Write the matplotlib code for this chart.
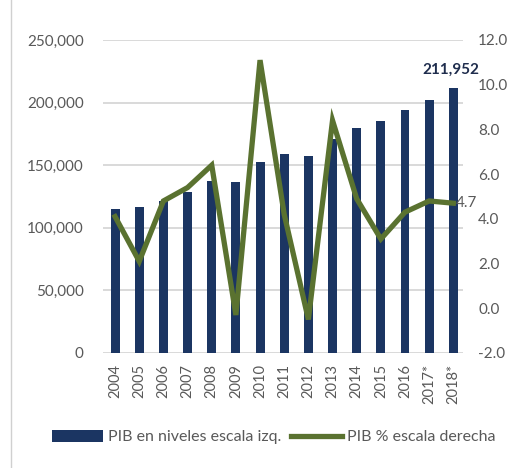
import matplotlib
matplotlib.use("Agg")
import matplotlib.pyplot as plt
from matplotlib.lines import Line2D
from matplotlib.patches import Patch
import numpy as np

years = ["2004", "2005", "2006", "2007", "2008", "2009", "2010", "2011",
         "2012", "2013", "2014", "2015", "2016", "2017*", "2018*"]
pib_niveles = [115000, 116500, 121300, 128500, 137200, 136400, 152300, 158700,
               157300, 170700, 179700, 185300, 194000, 202000, 211952]
pib_pct = [4.1, 2.1, 4.8, 5.4, 6.4, -0.3, 11.1, 4.2, -0.5, 8.4, 4.9, 3.1, 4.3, 4.8, 4.7]
left_ticks = [0, 50000, 100000, 150000, 200000, 250000]
right_ticks = [-2.0, 0.0, 2.0, 4.0, 6.0, 8.0, 10.0, 12.0]

navy = "#1b3562"
green = "#5a7230"
grid_c = "#d9d9d9"
txt_c = "#595959"

plt.rcParams['font.family'] = ['Lato', 'DejaVu Sans']

W, H = 516, 468
fig = plt.figure(figsize=(W / 100, H / 100), dpi=100)
x0, x1, y0, y1 = 103, 463, 40, 353
ax = fig.add_axes([x0 / W, 1 - y1 / H, (x1 - x0) / W, (y1 - y0) / H])

x = np.arange(len(years))
ax.bar(x, pib_niveles, width=0.37, color=navy, zorder=2)
ax.set_ylim(0, 250000)
ax.set_xlim(-0.5, len(years) - 0.6)
ax.set_yticks(left_ticks)
ax.set_yticklabels([f"{v:,}" for v in left_ticks])
ax.yaxis.grid(True, color=grid_c, linewidth=1.4, zorder=0)
ax.set_axisbelow(True)
for s in ax.spines.values():
    s.set_visible(False)
ax.tick_params(axis='y', length=0, pad=14, labelsize=11, labelcolor=txt_c)
ax.set_xticks(x)
ax.set_xticklabels(years, rotation=90)
ax.tick_params(axis='x', length=0, pad=8, labelsize=10.5, labelcolor=txt_c)

ax2 = ax.twinx()
ax2.plot(x, pib_pct, color=green, linewidth=3.8, zorder=3, solid_joinstyle='miter')
ax2.set_ylim(-2, 12)
ax2.set_yticks(right_ticks)
ax2.set_yticklabels([f"{v:.1f}" for v in right_ticks])
for s in ax2.spines.values():
    s.set_visible(False)
ax2.tick_params(axis='y', length=0, pad=11, labelsize=11, labelcolor=txt_c)

ax.annotate(f"{pib_niveles[-1]:,}", (x[-1], pib_niveles[-1]), xytext=(-2, 8),
            textcoords='offset points', ha='center', va='bottom',
            fontsize=11, fontweight='bold', color="#1f2d4d")
ax2.annotate(f"{pib_pct[-1]}", (x[-1], pib_pct[-1]), xytext=(2, 0),
             textcoords='offset points', ha='left', va='center',
             fontsize=11, color=txt_c)

handles = [Patch(facecolor=navy, edgecolor='none'),
           Line2D([0], [0], color=green, linewidth=3.8)]
fig.legend(handles, ["PIB en niveles escala izq.", "PIB % escala derecha"],
           loc='center', bbox_to_anchor=(0.53, 1 - 437 / H), ncol=2, frameon=False,
           fontsize=11.5, handlelength=3.2, handleheight=0.8, handletextpad=0.3,
           columnspacing=0.6, labelcolor=txt_c)

fig.add_artist(Line2D([11 / W, 11 / W], [0, 1], color="#d0d0d0", linewidth=1.0))

fig.savefig("out.png", dpi=100, facecolor='white')
